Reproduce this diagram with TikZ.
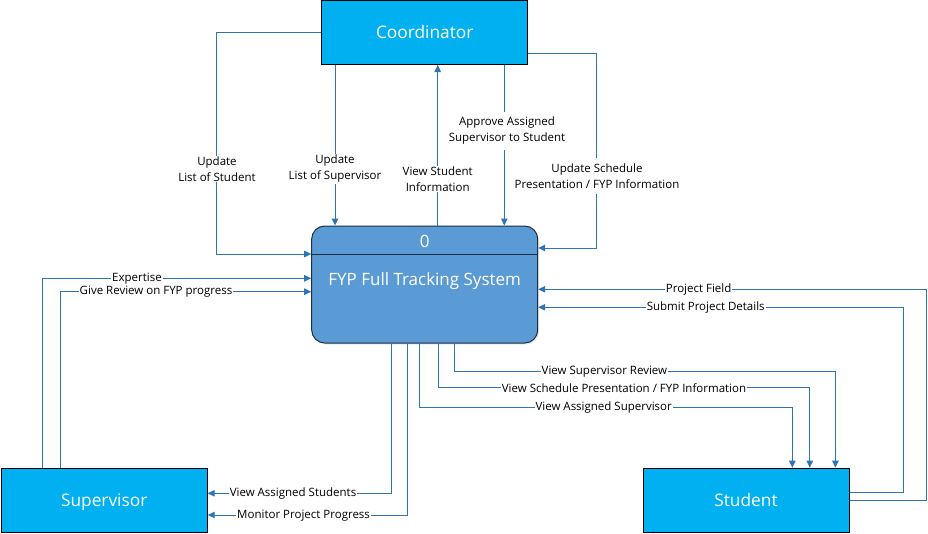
\documentclass[tikz,border=0pt]{standalone}
\usepackage{fontspec}
\setmainfont{Open Sans}
\usetikzlibrary{arrows.meta,shadows}
\definecolor{entcol}{HTML}{00B0F0}
\definecolor{syscol}{HTML}{5B9BD5}
\definecolor{linecol}{HTML}{2E75B6}
\definecolor{bordcol}{HTML}{1C2E40}
\tikzset{
  entity/.style={draw=black, line width=1pt, fill=entcol, text=white, minimum width=206pt, minimum height=64pt, inner sep=0pt, text height=12pt, text depth=0pt, font=\fontsize{17.3}{19}\selectfont},
  process/.style={draw=bordcol, line width=1pt, fill=syscol, rounded corners=13pt, minimum width=226pt, minimum height=117pt, inner sep=0pt, drop shadow={opacity=0.18, shadow xshift=1.5pt, shadow yshift=-1.5pt}},
  flow/.style={draw=linecol, line width=1pt, -{Triangle[width=6.5pt,length=7pt]}},
  lbl/.style={fill=white, inner xsep=1pt, inner ysep=1pt, align=center, text=black, font=\fontsize{11.5}{16}\selectfont},
  systext/.style={text=white, inner sep=0pt, font=\fontsize{17}{19}\selectfont}
}
\begin{document}
\begin{tikzpicture}[x=1pt,y=-1pt]
\useasboundingbox (0,0) rectangle (928,533);
% entities
\node[entity] (coord) at (424.7,32.5) {Coordinator};
\node[entity] (sup) at (104.2,500.2) {Supervisor};
\node[entity] (stu) at (746,500.2) {Student};
\node[process] (sys) at (424.7,284.5) {};
\draw[draw=bordcol, line width=1pt] (sys.west |- 0,254.5) -- (sys.east |- 0,254.5);
\node[systext] (sysnum) at (424.7,241) {0};
\node[systext] (systitle) at (424.7,281) {FYP Full Tracking System};
% connectors
\draw[flow] (coord.west) -| (216.7,254) -- (sys.west |- 0,254);
\draw[flow] (coord.south -| 335,0) -- (sys.north -| 335,0);
\draw[flow] (sys.north -| 437.7,0) -- (coord.south -| 437.7,0);
\draw[flow] (coord.south -| 504.3,0) -- (sys.north -| 504.3,0);
\draw[flow] (coord.east |- 0,53.3) -| (596.7,248) -- (sys.east |- 0,248);
\draw[flow] (sup.north -| 42,0) |- (sys.west |- 0,278.3);
\draw[flow] (sup.north -| 60,0) |- (sys.west |- 0,291.7);
\draw[flow] (sys.south -| 391.8,0) |- (sup.east |- 0,493.3);
\draw[flow] (sys.south -| 407.9,0) |- (sup.east |- 0,515);
\draw[flow] (sys.south -| 419.6,0) |- (792.3,407.3) -- (stu.north -| 792.3,0);
\draw[flow] (sys.south -| 438.7,0) |- (809.8,387.7) -- (stu.north -| 809.8,0);
\draw[flow] (sys.south -| 454.9,0) |- (835.4,371.7) -- (stu.north -| 835.4,0);
\draw[flow] (stu.east |- 0,500.7) -| (926,289.3) -- (sys.east |- 0,289.3);
\draw[flow] (stu.east |- 0,492.3) -| (903.4,307.3) -- (sys.east |- 0,307.3);
% labels
\node[lbl] (l1) at (217,169) {Update\\List of Student};
\node[lbl] (l2) at (335,169) {Update\\List of Supervisor};
\node[lbl] (l3) at (437.7,179) {View Student\\Information};
\node[lbl, inner ysep=5pt] (l4) at (507,131) {Approve Assigned\\Supervisor to Student};
\node[lbl, inner ysep=6pt] (l5) at (597,176) {Update Schedule\\Presentation / FYP Information};
\node[lbl] (l6) at (137,278.3) {Expertise};
\node[lbl] (l7) at (156,291.7) {Give Review on FYP progress};
\node[lbl] (l8) at (293,493.8) {View Assigned Students};
\node[lbl] (l9) at (303.6,515.5) {Monitor Project Progress};
\node[lbl] (l10) at (603.7,407.3) {View Assigned Supervisor};
\node[lbl] (l11) at (624,387.7) {View Schedule Presentation / FYP Information};
\node[lbl] (l12) at (604.4,371.7) {View Supervisor Review};
\node[lbl] (l13) at (698.6,289.3) {Project Field};
\node[lbl] (l14) at (705.7,307.3) {Submit Project Details};
\end{tikzpicture}
\end{document}
